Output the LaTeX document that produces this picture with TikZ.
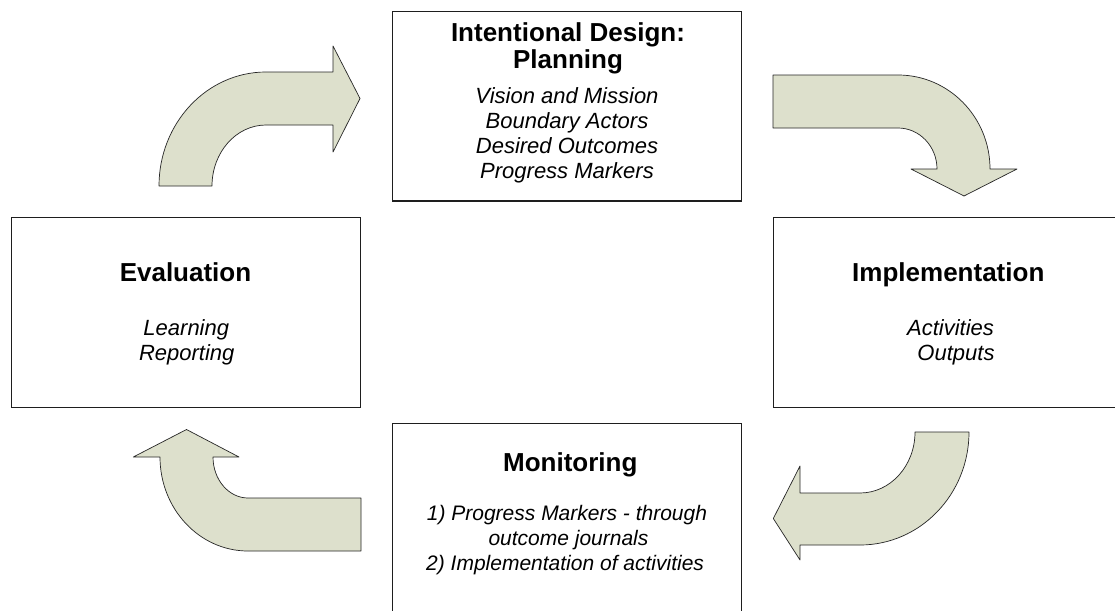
\documentclass[tikz,border=0pt]{standalone}
\usepackage{fontspec}
\setmainfont{Liberation Sans}
\definecolor{arrowfill}{RGB}{221,224,204}
\definecolor{boxline}{RGB}{30,30,30}
\begin{document}
\begin{tikzpicture}[x=1pt,y=-1pt,
  box/.style={draw=boxline, line width=1.3pt, fill=white, inner sep=0pt},
  ttl/.style={font=\bfseries\fontsize{26}{30}\selectfont, inner sep=0pt, anchor=base},
  itm/.style={font=\itshape\fontsize{22}{25}\selectfont, inner sep=0pt, anchor=base},
  itmw/.style={font=\itshape\fontsize{21}{25}\selectfont, inner sep=0pt, anchor=base west},
  bent/.style={fill=arrowfill, draw=black!85, line width=0.7pt, line join=round}]
\useasboundingbox (0,0) rectangle (1115,610);
\clip (0,0) rectangle (1115,610);
\fill[white] (0,0) rectangle (1115,610);

% boxes
\node[box, minimum width=349pt, minimum height=189.3pt] (plan) at (567.2,106.4) {};
\node[box, minimum width=349pt, minimum height=190pt] (eval) at (186.2,312.7) {};
\node[box, minimum width=351pt, minimum height=190pt] (impl) at (948.8,312.5) {};
\node[box, minimum width=349pt, minimum height=190pt] (moni) at (567.2,518.3) {};

% planning text
\node[ttl] (p1) at (568,41.7) {Intentional Design:};
\node[ttl] (p2) at (568,68.3) {Planning};
\node[itm] (p3) at (567,103.3) {Vision and Mission};
\node[itm] (p4) at (567,128.3) {Boundary Actors};
\node[itm] (p5) at (567,153.3) {Desired Outcomes};
\node[itm] (p6) at (567,178.3) {Progress Markers};

% evaluation text
\node[ttl] (e1) at (185.5,281) {Evaluation};
\node[itm] (e2) at (186.3,335) {Learning};
\node[itm] (e3) at (186.7,360) {Reporting};

% implementation text
\node[ttl] (i1) at (948.3,281) {Implementation};
\node[itm] (i2) at (950.5,335) {Activities};
\node[itm] (i3) at (956,360) {Outputs};

% monitoring text
\node[ttl] (m1) at (570.3,471.7) {Monitoring};
\node[itmw] (m2) at (426.7,520) {1) Progress Markers - through};
\node[itmw] (m3) at (488.3,545) {outcome journals};
\node[itmw] (m4) at (426,570) {2) Implementation of activities};

% bent arrow: evaluation -> planning
\draw[bent] (159,186) .. controls (159,123) and (206.9,72) .. (266,72)
  -- (333,72) -- (333,46) -- (360,98.5) -- (333,152) -- (333,125) -- (266,125)
  .. controls (236.2,125) and (212,152.3) .. (212,186) -- cycle;

% bent arrow: planning -> implementation
\draw[bent] (773,75) -- (898,75) .. controls (948.8,75) and (990,117.1) .. (990,169)
  -- (1017,169) -- (964,196) -- (911,169) -- (937,169)
  .. controls (937,146.4) and (919.5,128) .. (898,128) -- (773,128) -- cycle;

% bent arrow: implementation -> monitoring
\draw[bent] (915,432) -- (969,432) .. controls (969,494.4) and (920.2,545) .. (860,545)
  -- (800,545) -- (800,560) -- (773.3,518.5) -- (800,466) -- (800,493) -- (860,493)
  .. controls (890.4,493) and (915,465.7) .. (915,432) -- cycle;

% bent arrow: monitoring -> evaluation
\draw[bent] (361,498) -- (361,551) -- (248,551) .. controls (199.4,551) and (160,508.9) .. (160,457)
  -- (133.3,457) -- (186.5,429.5) -- (239,457) -- (213,457)
  .. controls (213,479.6) and (228.7,498) .. (248,498) -- cycle;
\end{tikzpicture}
\end{document}
